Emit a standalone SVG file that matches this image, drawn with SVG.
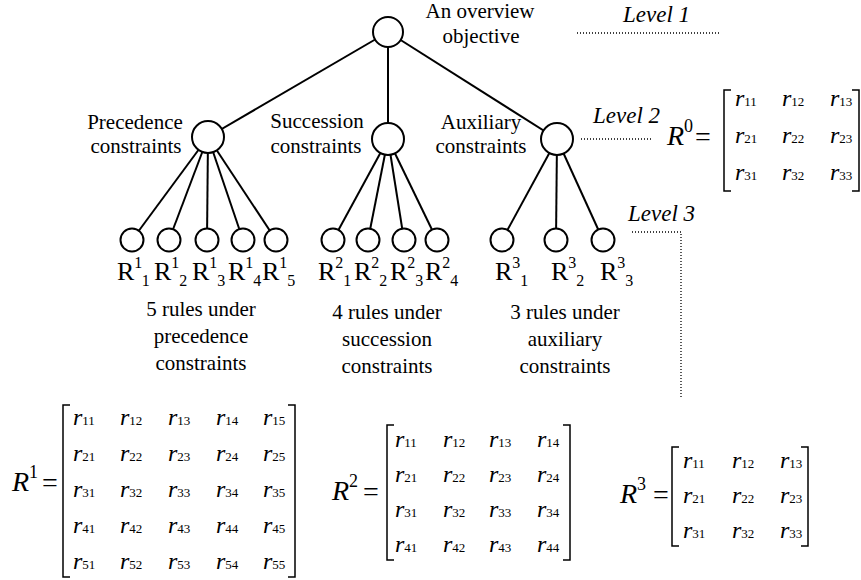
<svg xmlns="http://www.w3.org/2000/svg" width="861" height="580" viewBox="0 0 861 580">
<style>
text{font-family:"Liberation Serif","Times New Roman",serif;fill:#000}
.lbl{font-size:21px;text-anchor:middle}
.lvl{font-size:23px;font-style:italic}
.node{fill:#fff;stroke:#000;stroke-width:2}
.edge{stroke:#000;stroke-width:2;fill:none}
.dot{stroke:#000;stroke-width:1.3;stroke-dasharray:1 2;fill:none}
.leaf{font-size:26px}
.sm{font-size:16px}
.big{font-size:28px;font-style:italic}
.sup{font-size:18px;font-style:normal}
.eq{font-size:28px}
.r{font-size:24px;font-style:italic}
.d{font-size:13px}
.br{stroke:#000;stroke-width:1.5;fill:none}
</style>
<rect width="861" height="580" fill="#fff"/>
<g id="connectors">
<line class="edge" x1="388" y1="32" x2="208" y2="137"/>
<line class="edge" x1="388" y1="32" x2="388" y2="139"/>
<line class="edge" x1="388" y1="32" x2="557" y2="139"/>
<line class="edge" x1="208" y1="137" x2="132" y2="240"/>
<line class="edge" x1="208" y1="137" x2="169" y2="240"/>
<line class="edge" x1="208" y1="137" x2="207" y2="240"/>
<line class="edge" x1="208" y1="137" x2="243" y2="240"/>
<line class="edge" x1="208" y1="137" x2="276" y2="240"/>
<line class="edge" x1="388" y1="139" x2="333" y2="240"/>
<line class="edge" x1="388" y1="139" x2="368" y2="240"/>
<line class="edge" x1="388" y1="139" x2="404" y2="240"/>
<line class="edge" x1="388" y1="139" x2="437" y2="240"/>
<line class="edge" x1="557" y1="139" x2="502" y2="240"/>
<line class="edge" x1="557" y1="139" x2="556" y2="240"/>
<line class="edge" x1="557" y1="139" x2="603" y2="240"/>
</g>
<g id="levels">
<text class="lvl" x="623" y="22">Level 1</text>
<line class="dot" x1="577" y1="33" x2="720" y2="33"/>
<text class="lvl" x="593" y="123">Level 2</text>
<line class="dot" x1="581" y1="139" x2="652" y2="139"/>
<text class="lvl" x="628" y="221">Level 3</text>
<path class="dot" d="M632 232 H681 V397"/>
</g>
<g id="n-root">
<circle class="node" cx="388" cy="32" r="15"/>
<text class="lbl" x="480" y="18">An overview</text>
<text class="lbl" x="481" y="43">objective</text>
</g>
<g id="n-prec">
<circle class="node" cx="208" cy="137" r="16"/>
<text class="lbl" x="135" y="129">Precedence</text>
<text class="lbl" x="136" y="153">constraints</text>
</g>
<g id="n-succ">
<circle class="node" cx="388" cy="139" r="16"/>
<text class="lbl" x="317" y="128">Succession</text>
<text class="lbl" x="316" y="153">constraints</text>
</g>
<g id="n-aux">
<circle class="node" cx="557" cy="139" r="16"/>
<text class="lbl" x="481" y="129">Auxiliary</text>
<text class="lbl" x="481" y="153">constraints</text>
</g>
<g id="leaves">
<g id="n-r11"><circle class="node" cx="132" cy="240" r="11.5"/><text class="leaf" x="117" y="280">R<tspan class="sm" dy="-12">1</tspan><tspan class="sm" dy="18">1</tspan></text></g>
<g id="n-r12"><circle class="node" cx="169" cy="240" r="11.5"/><text class="leaf" x="154" y="280">R<tspan class="sm" dy="-12">1</tspan><tspan class="sm" dy="18">2</tspan></text></g>
<g id="n-r13"><circle class="node" cx="207" cy="240" r="11.5"/><text class="leaf" x="192" y="280">R<tspan class="sm" dy="-12">1</tspan><tspan class="sm" dy="18">3</tspan></text></g>
<g id="n-r14"><circle class="node" cx="243" cy="240" r="11.5"/><text class="leaf" x="228" y="280">R<tspan class="sm" dy="-12">1</tspan><tspan class="sm" dy="18">4</tspan></text></g>
<g id="n-r15"><circle class="node" cx="276" cy="240" r="11.5"/><text class="leaf" x="262" y="280">R<tspan class="sm" dy="-12">1</tspan><tspan class="sm" dy="18">5</tspan></text></g>
<g id="n-r21"><circle class="node" cx="333" cy="240" r="11.5"/><text class="leaf" x="318" y="280">R<tspan class="sm" dy="-12">2</tspan><tspan class="sm" dy="18">1</tspan></text></g>
<g id="n-r22"><circle class="node" cx="368" cy="240" r="11.5"/><text class="leaf" x="354" y="280">R<tspan class="sm" dy="-12">2</tspan><tspan class="sm" dy="18">2</tspan></text></g>
<g id="n-r23"><circle class="node" cx="404" cy="240" r="11.5"/><text class="leaf" x="390" y="280">R<tspan class="sm" dy="-12">2</tspan><tspan class="sm" dy="18">3</tspan></text></g>
<g id="n-r24"><circle class="node" cx="437" cy="240" r="11.5"/><text class="leaf" x="425" y="280">R<tspan class="sm" dy="-12">2</tspan><tspan class="sm" dy="18">4</tspan></text></g>
<g id="n-r31"><circle class="node" cx="502" cy="240" r="11.5"/><text class="leaf" x="495" y="280">R<tspan class="sm" dy="-12">3</tspan><tspan class="sm" dy="18">1</tspan></text></g>
<g id="n-r32"><circle class="node" cx="556" cy="240" r="11.5"/><text class="leaf" x="551" y="280">R<tspan class="sm" dy="-12">3</tspan><tspan class="sm" dy="18">2</tspan></text></g>
<g id="n-r33"><circle class="node" cx="603" cy="240" r="11.5"/><text class="leaf" x="600" y="280">R<tspan class="sm" dy="-12">3</tspan><tspan class="sm" dy="18">3</tspan></text></g>
</g>
<g id="captions">
<text class="lbl" x="201" y="316">5 rules under</text>
<text class="lbl" x="201" y="343">precedence</text>
<text class="lbl" x="201" y="370">constraints</text>
<text class="lbl" x="387" y="319">4 rules under</text>
<text class="lbl" x="387" y="346">succession</text>
<text class="lbl" x="387" y="373">constraints</text>
<text class="lbl" x="565" y="319">3 rules under</text>
<text class="lbl" x="565" y="346">auxiliary</text>
<text class="lbl" x="565" y="373">constraints</text>
</g>
<g id="matrix-R0">
<text class="big" x="667" y="145">R<tspan class="sup" dy="-13">0</tspan></text>
<text class="eq" x="695" y="146">=</text>
<path class="br" d="M731 90 H724 V191 H731"/>
<path class="br" d="M852 90 H859 V191 H852"/>
<text x="735" y="106"><tspan class="r">r</tspan><tspan class="d">11</tspan></text>
<text x="782" y="106"><tspan class="r">r</tspan><tspan class="d">12</tspan></text>
<text x="830" y="106"><tspan class="r">r</tspan><tspan class="d">13</tspan></text>
<text x="735" y="143"><tspan class="r">r</tspan><tspan class="d">21</tspan></text>
<text x="782" y="143"><tspan class="r">r</tspan><tspan class="d">22</tspan></text>
<text x="830" y="143"><tspan class="r">r</tspan><tspan class="d">23</tspan></text>
<text x="735" y="180"><tspan class="r">r</tspan><tspan class="d">31</tspan></text>
<text x="782" y="180"><tspan class="r">r</tspan><tspan class="d">32</tspan></text>
<text x="830" y="180"><tspan class="r">r</tspan><tspan class="d">33</tspan></text>
</g>
<g id="matrix-R1">
<text class="big" x="12" y="491">R<tspan class="sup" dy="-13">1</tspan></text>
<text class="eq" x="42" y="492">=</text>
<path class="br" d="M70 405 H63 V577 H70"/>
<path class="br" d="M288 405 H295 V577 H288"/>
<text x="73" y="425"><tspan class="r">r</tspan><tspan class="d">11</tspan></text>
<text x="120" y="425"><tspan class="r">r</tspan><tspan class="d">12</tspan></text>
<text x="168" y="425"><tspan class="r">r</tspan><tspan class="d">13</tspan></text>
<text x="216" y="425"><tspan class="r">r</tspan><tspan class="d">14</tspan></text>
<text x="263" y="425"><tspan class="r">r</tspan><tspan class="d">15</tspan></text>
<text x="73" y="461"><tspan class="r">r</tspan><tspan class="d">21</tspan></text>
<text x="120" y="461"><tspan class="r">r</tspan><tspan class="d">22</tspan></text>
<text x="168" y="461"><tspan class="r">r</tspan><tspan class="d">23</tspan></text>
<text x="216" y="461"><tspan class="r">r</tspan><tspan class="d">24</tspan></text>
<text x="263" y="461"><tspan class="r">r</tspan><tspan class="d">25</tspan></text>
<text x="73" y="497"><tspan class="r">r</tspan><tspan class="d">31</tspan></text>
<text x="120" y="497"><tspan class="r">r</tspan><tspan class="d">32</tspan></text>
<text x="168" y="497"><tspan class="r">r</tspan><tspan class="d">33</tspan></text>
<text x="216" y="497"><tspan class="r">r</tspan><tspan class="d">34</tspan></text>
<text x="263" y="497"><tspan class="r">r</tspan><tspan class="d">35</tspan></text>
<text x="73" y="533"><tspan class="r">r</tspan><tspan class="d">41</tspan></text>
<text x="120" y="533"><tspan class="r">r</tspan><tspan class="d">42</tspan></text>
<text x="168" y="533"><tspan class="r">r</tspan><tspan class="d">43</tspan></text>
<text x="216" y="533"><tspan class="r">r</tspan><tspan class="d">44</tspan></text>
<text x="263" y="533"><tspan class="r">r</tspan><tspan class="d">45</tspan></text>
<text x="73" y="569"><tspan class="r">r</tspan><tspan class="d">51</tspan></text>
<text x="120" y="569"><tspan class="r">r</tspan><tspan class="d">52</tspan></text>
<text x="168" y="569"><tspan class="r">r</tspan><tspan class="d">53</tspan></text>
<text x="216" y="569"><tspan class="r">r</tspan><tspan class="d">54</tspan></text>
<text x="263" y="569"><tspan class="r">r</tspan><tspan class="d">55</tspan></text>
</g>
<g id="matrix-R2">
<text class="big" x="332" y="500">R<tspan class="sup" dy="-13">2</tspan></text>
<text class="eq" x="363" y="501">=</text>
<path class="br" d="M394 425 H387 V560 H394"/>
<path class="br" d="M563 425 H570 V560 H563"/>
<text x="395" y="447"><tspan class="r">r</tspan><tspan class="d">11</tspan></text>
<text x="443" y="447"><tspan class="r">r</tspan><tspan class="d">12</tspan></text>
<text x="489" y="447"><tspan class="r">r</tspan><tspan class="d">13</tspan></text>
<text x="537" y="447"><tspan class="r">r</tspan><tspan class="d">14</tspan></text>
<text x="395" y="482"><tspan class="r">r</tspan><tspan class="d">21</tspan></text>
<text x="443" y="482"><tspan class="r">r</tspan><tspan class="d">22</tspan></text>
<text x="489" y="482"><tspan class="r">r</tspan><tspan class="d">23</tspan></text>
<text x="537" y="482"><tspan class="r">r</tspan><tspan class="d">24</tspan></text>
<text x="395" y="517"><tspan class="r">r</tspan><tspan class="d">31</tspan></text>
<text x="443" y="517"><tspan class="r">r</tspan><tspan class="d">32</tspan></text>
<text x="489" y="517"><tspan class="r">r</tspan><tspan class="d">33</tspan></text>
<text x="537" y="517"><tspan class="r">r</tspan><tspan class="d">34</tspan></text>
<text x="395" y="552"><tspan class="r">r</tspan><tspan class="d">41</tspan></text>
<text x="443" y="552"><tspan class="r">r</tspan><tspan class="d">42</tspan></text>
<text x="489" y="552"><tspan class="r">r</tspan><tspan class="d">43</tspan></text>
<text x="537" y="552"><tspan class="r">r</tspan><tspan class="d">44</tspan></text>
</g>
<g id="matrix-R3">
<text class="big" x="620" y="503">R<tspan class="sup" dy="-13">3</tspan></text>
<text class="eq" x="653" y="504">=</text>
<path class="br" d="M679 447 H672 V546 H679"/>
<path class="br" d="M801 447 H808 V546 H801"/>
<text x="683" y="468"><tspan class="r">r</tspan><tspan class="d">11</tspan></text>
<text x="732" y="468"><tspan class="r">r</tspan><tspan class="d">12</tspan></text>
<text x="780" y="468"><tspan class="r">r</tspan><tspan class="d">13</tspan></text>
<text x="683" y="503"><tspan class="r">r</tspan><tspan class="d">21</tspan></text>
<text x="732" y="503"><tspan class="r">r</tspan><tspan class="d">22</tspan></text>
<text x="780" y="503"><tspan class="r">r</tspan><tspan class="d">23</tspan></text>
<text x="683" y="538"><tspan class="r">r</tspan><tspan class="d">31</tspan></text>
<text x="732" y="538"><tspan class="r">r</tspan><tspan class="d">32</tspan></text>
<text x="780" y="538"><tspan class="r">r</tspan><tspan class="d">33</tspan></text>
</g>
</svg>
